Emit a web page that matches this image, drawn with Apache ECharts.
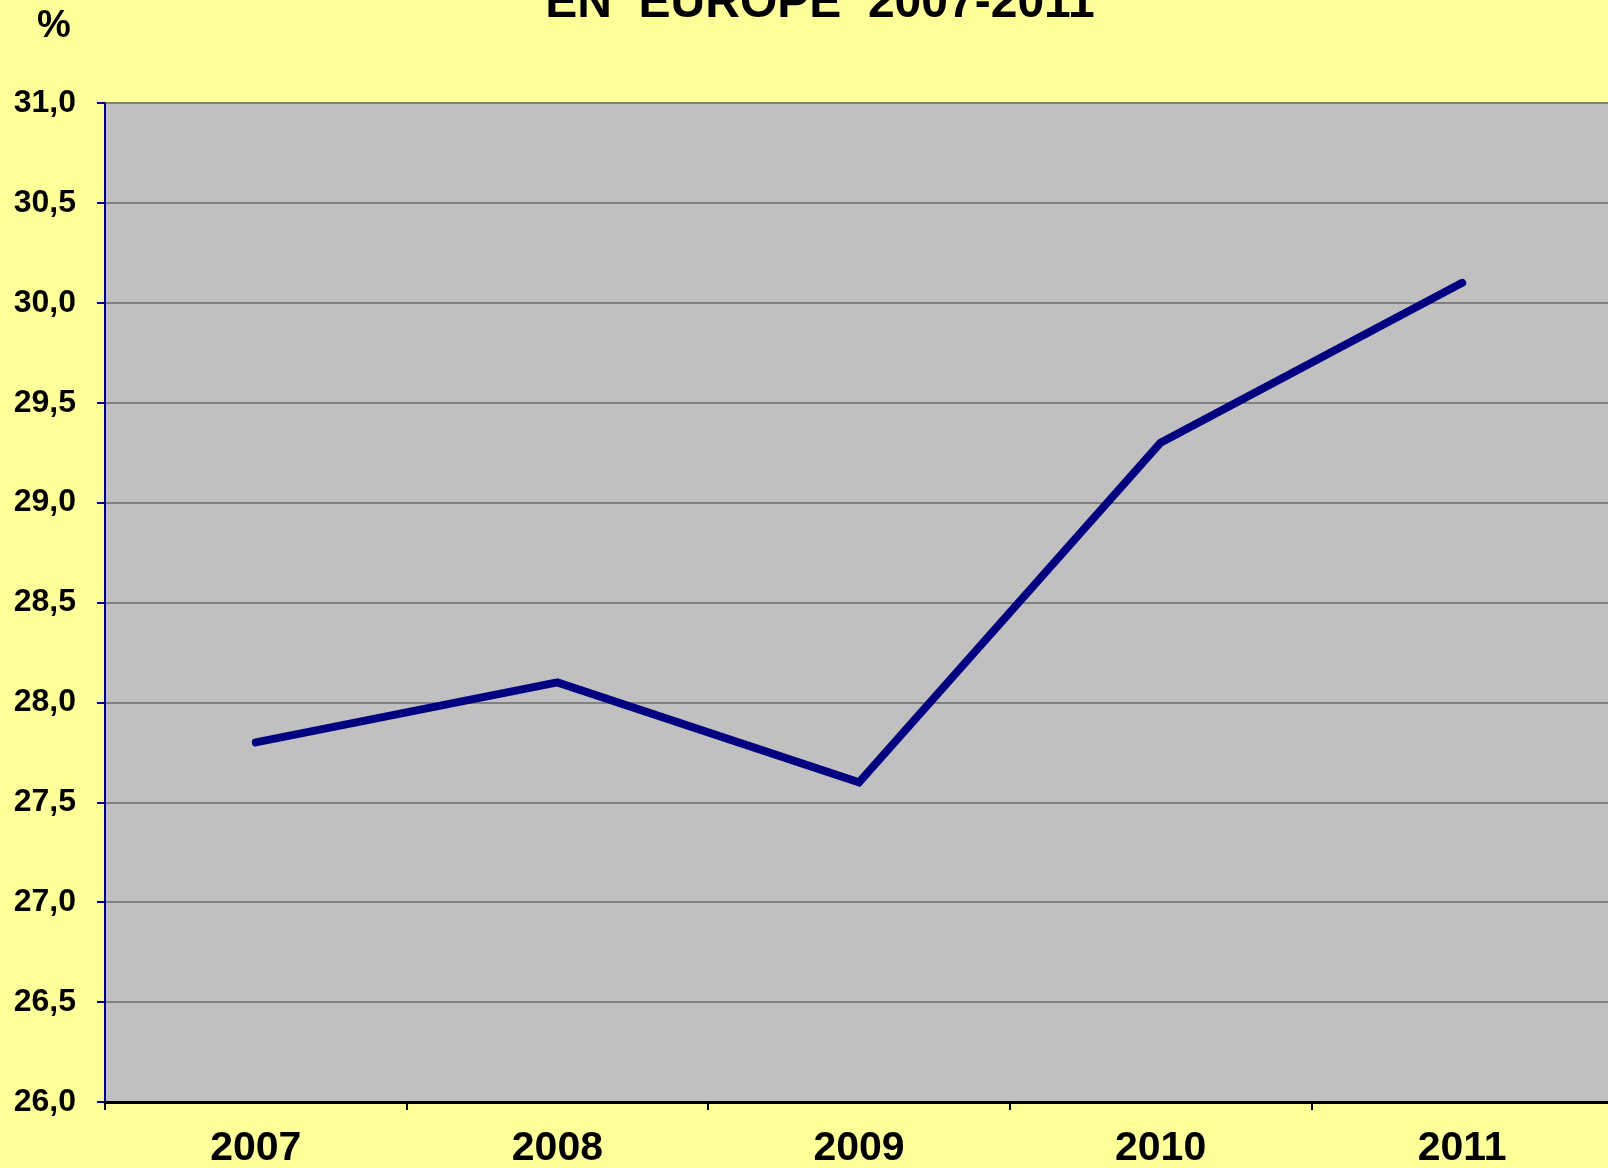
<!DOCTYPE html>
<html>
<head>
<meta charset="utf-8">
<script src="https://cdn.jsdelivr.net/npm/echarts@6/dist/echarts.min.js"></script>
<style>
  html, body { margin: 0; padding: 0; background: #ffff99; }
  #chart { width: 1608px; height: 1168px; }
</style>
</head>
<body>
<div id="chart"></div>
<script>
const years = ['2007', '2008', '2009', '2010', '2011']
const values = [27.8, 28.1, 27.6, 29.3, 30.1]
const yMin = 26
const yMax = 31
const yStep = 0.5

const font = '"Liberation Sans", Arial, sans-serif'

const chart = echarts.init(document.getElementById('chart'))

chart.setOption({
  backgroundColor: '#ffff99',
  animation: false,
  grid: {
    left: 105,
    top: 103,
    width: 1508,
    height: 999,
    outerBoundsMode: 'none',
    containLabel: false,
    show: true,
    backgroundColor: '#c0c0c0',
    borderWidth: 0,
  },
  graphic: [
    {
      type: 'text',
      style: {
        text: 'EN  EUROPE  2007-2011',
        x: 820,
        y: 28,
        align: 'center',
        verticalAlign: 'bottom',
        font: `bold 48px ${font}`,
        fill: '#000',
      },
    },
    {
      type: 'text',
      style: {
        text: '%',
        x: 54,
        y: 27,
        align: 'center',
        verticalAlign: 'middle',
        font: `bold 38px ${font}`,
        fill: '#000',
      },
    },
  ],
  xAxis: {
    type: 'category',
    data: years,
    boundaryGap: true,
    axisLine: { lineStyle: { color: '#000', width: 3 } },
    axisTick: { show: true, length: 8, lineStyle: { color: '#000', width: 2 } },
    axisLabel: {
      color: '#000',
      fontFamily: font,
      fontWeight: 'bold',
      fontSize: 41,
      margin: 26,
    },
    splitLine: { show: false },
  },
  yAxis: {
    type: 'value',
    min: yMin,
    max: yMax,
    interval: yStep,
    axisLine: { show: true, lineStyle: { color: '#000080', width: 2 } },
    axisTick: { show: true, length: 8, lineStyle: { color: '#000080', width: 2 } },
    axisLabel: {
      color: '#000',
      fontFamily: font,
      fontWeight: 'bold',
      fontSize: 32,
      margin: 29,
      formatter: (v) => v.toFixed(1).replace('.', ','),
    },
    splitLine: { lineStyle: { color: '#808080', width: 2 } },
  },
  series: [
    {
      type: 'line',
      data: values,
      showSymbol: false,
      symbol: 'none',
      lineStyle: { color: '#000080', width: 8, cap: 'round', join: 'miter' },
    },
  ],
})
</script>
</body>
</html>
